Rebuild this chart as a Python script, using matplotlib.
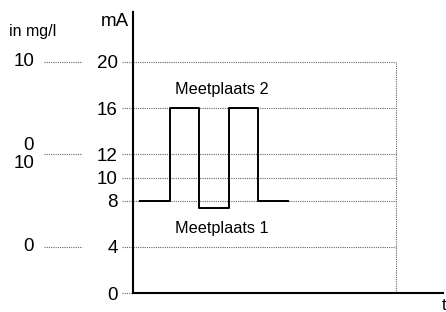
import matplotlib
matplotlib.use("Agg")
import matplotlib.pyplot as plt

# * Data

# mA levels with a tick label and a dotted guide line.
ma_ticks = [0, 4, 8, 10, 12, 16, 20]
ma_labels = ["0", "4", "8", "10", "12", "16", "20"]

# Left-hand mg/l labels: (mA level, text, offset in mA).
mg_levels = [20, 12, 12, 4]
mg_labels = ["10", "0", "10", "0"]
mg_offsets = [0, 0.75, -0.75, 0]
mg_guides = [20, 12, 4]

# Step signal: switch times and level held after each switch.
sig_t = [0.25, 1.25, 2.25, 3.25, 4.25, 5.25]
sig_ma = [8, 16, 7.4, 16, 8, 8]

T_END = 8.9

# * Plot

plt.rcParams["font.family"] = ["Liberation Sans", "DejaVu Sans"]

fig = plt.figure(figsize=(4.46, 3.12), dpi=100)
W, H = 446, 312
ax = fig.add_axes([133 / W, (H - 293) / H, (443 - 133) / W, (293 - 12) / H])
ax.set_xlim(0, 310 / 29.5)
ax.set_ylim(0, (293 - 12) / 11.55)

for s in ["top", "right"]:
    ax.spines[s].set_visible(False)
for s in ["left", "bottom"]:
    ax.spines[s].set_linewidth(1.5)
    ax.spines[s].set_color("black")

ax.set_xticks([])
ax.set_yticks(ma_ticks)
ax.set_yticklabels(ma_labels, fontsize=13.5)
ax.tick_params(axis="y", length=0, pad=11)

dot = dict(color="#666666", linewidth=0.8, linestyle=(0, (1, 1)), clip_on=False)

# Guide lines from the tick labels to the end of the time window.
for v in ma_ticks[1:]:
    ax.plot([-0.37, T_END], [v, v], **dot)
ax.plot([-0.37, 0], [0, 0], **dot)
ax.plot([T_END, T_END], [0, 20], **dot)

# mg/l scale on the far left.
for v in mg_guides:
    ax.plot([-3.02, -1.73], [v, v], **dot)
for v, txt, off in zip(mg_levels, mg_labels, mg_offsets):
    ax.text(-3.35, v + off, txt, fontsize=13.5, ha="right", va="center")

ax.step(sig_t, sig_ma, where="post", color="black", linewidth=1.4)

ax.text(-4.22, 22.6, "in mg/l", fontsize=11.5, ha="left", va="center")
ax.text(-0.15, 23.5, "mA", fontsize=13.5, ha="right", va="center")
ax.text(3.0, 17.6, "Meetplaats 2", fontsize=11.7, ha="center", va="center")
ax.text(3.0, 5.6, "Meetplaats 1", fontsize=11.7, ha="center", va="center")
ax.text(10.45, -1.1, "t", fontsize=12, ha="left", va="center")

plt.savefig("out.png", dpi=100)
